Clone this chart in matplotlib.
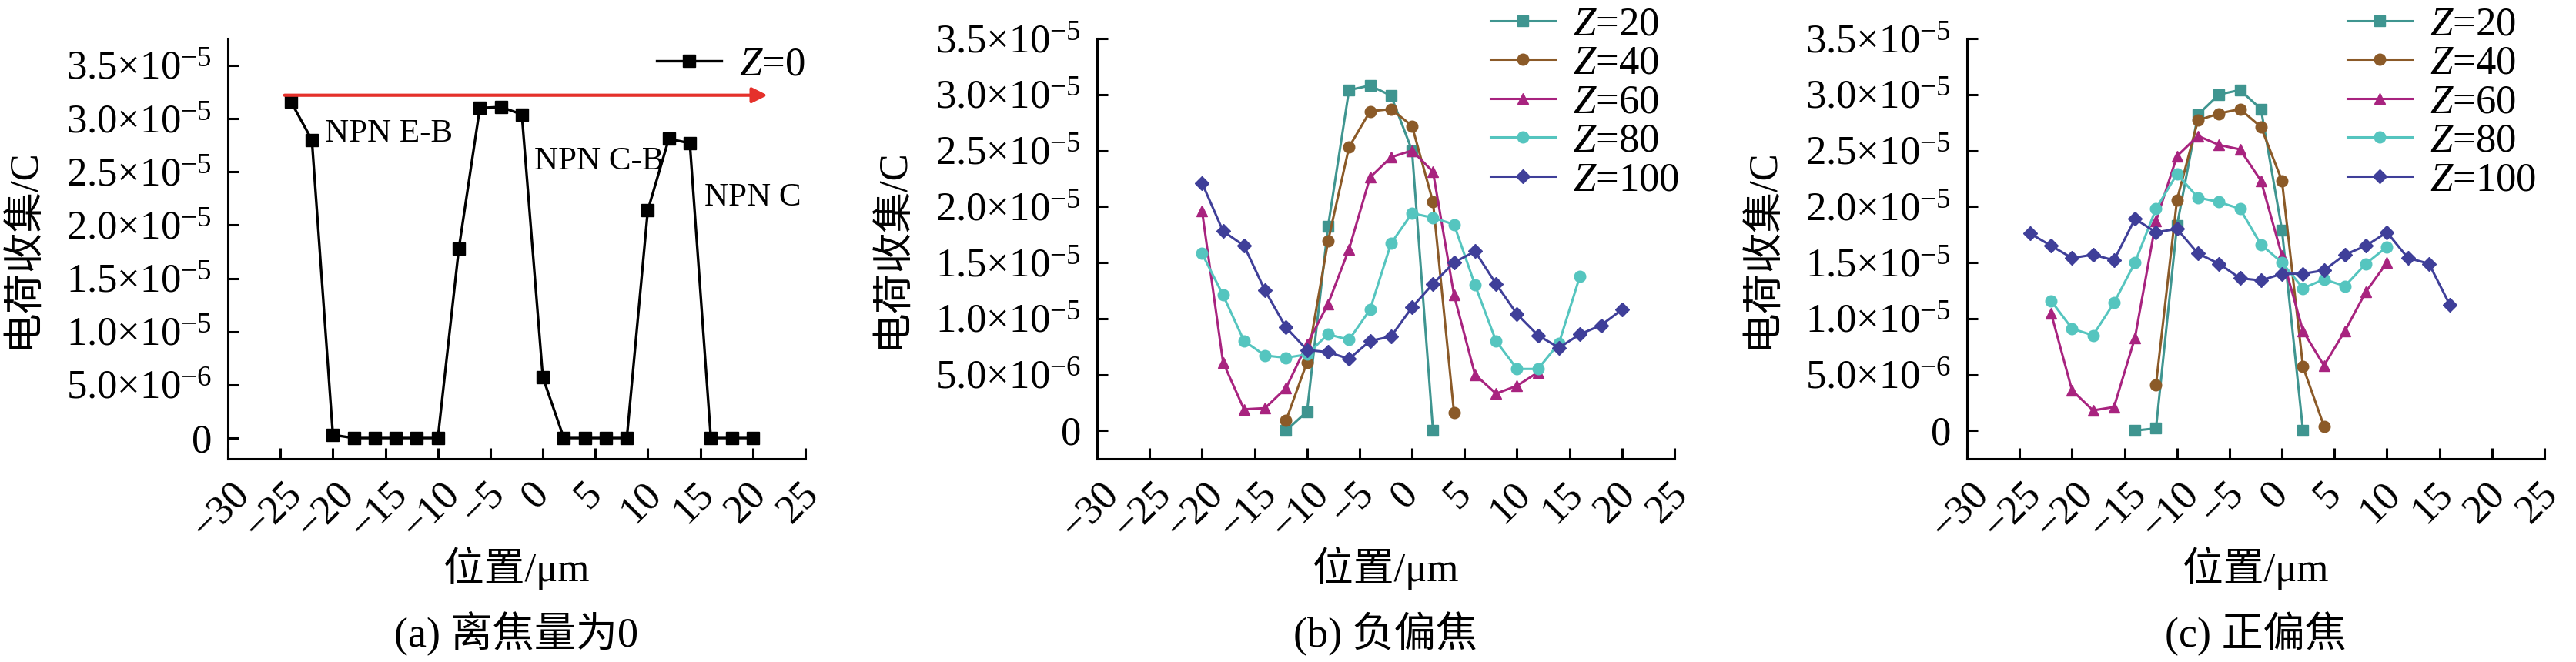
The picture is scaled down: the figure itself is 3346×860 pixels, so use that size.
import matplotlib
matplotlib.use('Agg')
import matplotlib.pyplot as plt
import matplotlib.transforms as mtransforms

plt.rcParams['font.family'] = ['Liberation Serif', 'Noto Sans CJK SC']
plt.rcParams['mathtext.fontset'] = 'custom'
plt.rcParams['mathtext.rm'] = 'Liberation Serif'
plt.rcParams['mathtext.it'] = 'Liberation Serif:italic'
plt.rcParams['axes.unicode_minus'] = True

# ---- data (charge in units of 1e-5 C) ----
pos_a = [-24, -22, -20, -18, -16, -14, -12, -10, -8, -6, -4, -2, 0,
         2, 4, 6, 8, 10, 12, 14, 16, 18, 20]
charge_a = [3.16, 2.80, 0.03, 0, 0, 0, 0, 0, 1.78, 3.10, 3.11, 3.04, 0.57,
            0, 0, 0, 0, 2.14, 2.81, 2.77, 0, 0, 0]

# (b) negative defocus
b_z20_x = [-12, -10, -8, -6, -4, -2, 0, 2]
b_z20_y = [0.0, 0.17, 1.82, 3.04, 3.08, 2.99, 2.50, 0.0]
b_z40_x = [-12, -10, -8, -6, -4, -2, 0, 2, 4]
b_z40_y = [0.09, 0.61, 1.69, 2.53, 2.85, 2.87, 2.72, 2.04, 0.16]
b_z60_x = [-20, -18, -16, -14, -12, -10, -8, -6, -4, -2, 0, 2, 4, 6, 8, 10, 12]
b_z60_y = [1.96, 0.61, 0.19, 0.20, 0.38, 0.77, 1.13, 1.62, 2.26, 2.44, 2.50,
           2.31, 1.21, 0.50, 0.33, 0.40, 0.52]
b_z80_x = [-20, -18, -16, -14, -12, -10, -8, -6, -4, -2, 0, 2, 4, 6, 8, 10,
           12, 14, 16]
b_z80_y = [1.58, 1.21, 0.80, 0.67, 0.65, 0.68, 0.86, 0.81, 1.08, 1.67, 1.94,
           1.90, 1.84, 1.30, 0.80, 0.55, 0.55, 0.78, 1.38]
b_z100_x = [-20, -18, -16, -14, -12, -10, -8, -6, -4, -2, 0, 2, 4, 6, 8, 10,
            12, 14, 16, 18, 20]
b_z100_y = [2.21, 1.78, 1.65, 1.25, 0.92, 0.72, 0.70, 0.64, 0.80, 0.84, 1.10,
            1.31, 1.50, 1.60, 1.31, 1.04, 0.85, 0.74, 0.86, 0.94, 1.08]

# (c) positive defocus
c_z20_x = [-14, -12, -10, -8, -6, -4, -2, 0, 2]
c_z20_y = [0.0, 0.02, 1.83, 2.82, 3.00, 3.04, 2.87, 1.79, 0.0]
c_z40_x = [-12, -10, -8, -6, -4, -2, 0, 2, 4]
c_z40_y = [0.41, 2.06, 2.77, 2.83, 2.87, 2.71, 2.23, 0.57, 0.04]
c_z60_x = [-22, -20, -18, -16, -14, -12, -10, -8, -6, -4, -2, 0, 2, 4, 6, 8, 10]
c_z60_y = [1.05, 0.36, 0.18, 0.21, 0.83, 1.87, 2.45, 2.63, 2.55, 2.51, 2.23,
           1.56, 0.89, 0.58, 0.89, 1.24, 1.50]
c_z80_x = [-22, -20, -18, -16, -14, -12, -10, -8, -6, -4, -2, 0, 2, 4, 6, 8, 10]
c_z80_y = [1.16, 0.91, 0.85, 1.14, 1.50, 1.98, 2.29, 2.08, 2.04, 1.98, 1.66,
           1.50, 1.27, 1.35, 1.29, 1.49, 1.64]
c_z100_x = [-24, -22, -20, -18, -16, -14, -12, -10, -8, -6, -4, -2, 0, 2, 4,
            6, 8, 10, 12, 14, 16]
c_z100_y = [1.76, 1.65, 1.54, 1.57, 1.52, 1.89, 1.77, 1.80, 1.58, 1.49, 1.36,
            1.34, 1.40, 1.40, 1.43, 1.57, 1.65, 1.77, 1.54, 1.49, 1.12]

z_labels = ['$Z$=20', '$Z$=40', '$Z$=60', '$Z$=80', '$Z$=100']
colors = ['#3f9590', '#8b5a28', '#a8237f', '#55c5bf', '#3f3f99']
markers = ['s', 'o', '^', 'o', 'D']

x_ticks = [-30, -25, -20, -15, -10, -5, 0, 5, 10, 15, 20, 25]
x_ticklabels = ['\u221230', '\u221225', '\u221220', '\u221215', '\u221210',
                '\u22125', '0', '5', '10', '15', '20', '25']
y_ticks = [0, 0.5, 1.0, 1.5, 2.0, 2.5, 3.0, 3.5]
y_ticklabels = ['0', '5.0\u00d710$^{\u22126}$', '1.0\u00d710$^{\u22125}$',
                '1.5\u00d710$^{\u22125}$', '2.0\u00d710$^{\u22125}$',
                '2.5\u00d710$^{\u22125}$', '3.0\u00d710$^{\u22125}$',
                '3.5\u00d710$^{\u22125}$']
captions = ['(a) 离焦量为0', '(b) 负偏焦', '(c) 正偏焦']

W, H = 3346, 860
fig = plt.figure(figsize=(W / 100, H / 100), dpi=100)

lefts = [296, 1425, 2555]
ax_w = 750
ax_top, ax_bot = 50, 596
axes = []
for lx in lefts:
    ax = fig.add_axes([lx / W, 1 - ax_bot / H, ax_w / W, (ax_bot - ax_top) / H])
    axes.append(ax)

shift = mtransforms.ScaledTranslation(-0.09, 0, fig.dpi_scale_trans)

for i, ax in enumerate(axes):
    ax.set_xlim(-30, 25)
    if i == 0:
        ax.set_ylim(-0.195, 3.753)
    else:
        ax.set_ylim(-0.252, 3.5)
    ax.spines['top'].set_visible(False)
    ax.spines['right'].set_visible(False)
    ax.spines['left'].set_linewidth(2.2)
    ax.spines['bottom'].set_linewidth(2.2)
    ax.set_xticks(x_ticks)
    ax.set_xticklabels(x_ticklabels, rotation=45, ha='center', va='top')
    ax.set_yticks(y_ticks)
    ax.set_yticklabels(y_ticklabels)
    ax.tick_params(direction='in', length=10, width=2.2, labelsize=38, pad=15)
    for lab in ax.get_xticklabels():
        lab.set_transform(lab.get_transform() + shift)
    cx = (lefts[i] + ax_w / 2) / W
    fig.text((lefts[i] - 266) / W, 1 - 323 / H, '电荷收集/C', rotation=90,
             ha='center', va='center', fontsize=38)
    fig.text(cx, 1 - 738 / H, '位置/μm', ha='center', va='center', fontsize=38)
    fig.text(cx, 1 - 823 / H, captions[i], ha='center', va='center', fontsize=39)

# (a)
ax = axes[0]
ax.plot(pos_a, charge_a, color='black', marker='s', ms=11.5, lw=2.4,
        label='$Z$=0')
ax.annotate('', xy=(21.4, 3.22), xytext=(-24.6, 3.22),
            arrowprops=dict(arrowstyle='-|>', color='#e5312b', lw=3,
                            mutation_scale=30, shrinkA=0, shrinkB=0))
ax.text(-20.76, 2.86, 'NPN E-B', fontsize=31, ha='left', va='center')
ax.text(-0.8, 2.60, 'NPN C-B', fontsize=31, ha='left', va='center')
ax.text(15.4, 2.26, 'NPN C', fontsize=31, ha='left', va='center')
ax.legend(loc='upper left', bbox_to_anchor=(853 / W, 1 - 60 / H),
          bbox_transform=fig.transFigure, frameon=False, fontsize=38,
          handlelength=1.6, handletextpad=0.42, borderpad=0, borderaxespad=0)

series_b = [(b_z20_x, b_z20_y), (b_z40_x, b_z40_y), (b_z60_x, b_z60_y),
            (b_z80_x, b_z80_y), (b_z100_x, b_z100_y)]
series_c = [(c_z20_x, c_z20_y), (c_z40_x, c_z40_y), (c_z60_x, c_z60_y),
            (c_z80_x, c_z80_y), (c_z100_x, c_z100_y)]

for ax, series, leg_x in [(axes[1], series_b, 1936), (axes[2], series_c, 3049)]:
    for (xs, ys), lab, col, mk in zip(series, z_labels, colors, markers):
        ax.plot(xs, ys, color=col, marker=mk, ms=10.5 if mk != 'D' else 9.5,
                lw=2.2, label=lab)
    ax.legend(loc='upper left', bbox_to_anchor=(leg_x / W, 1 - 8 / H),
              bbox_transform=fig.transFigure, frameon=False, fontsize=38,
              handlelength=1.6, handletextpad=0.42, labelspacing=0.05,
              borderpad=0, borderaxespad=0)

fig.savefig('out.png', dpi=100)
